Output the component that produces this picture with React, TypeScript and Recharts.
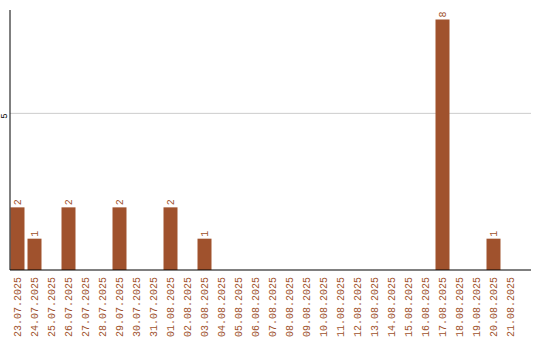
import React from 'react';
import { BarChart, Bar, XAxis, YAxis, CartesianGrid, LabelList } from 'recharts';

const dates = [
  '23.07.2025', '24.07.2025', '25.07.2025', '26.07.2025', '27.07.2025',
  '28.07.2025', '29.07.2025', '30.07.2025', '31.07.2025', '01.08.2025',
  '02.08.2025', '03.08.2025', '04.08.2025', '05.08.2025', '06.08.2025',
  '07.08.2025', '08.08.2025', '09.08.2025', '10.08.2025', '11.08.2025',
  '12.08.2025', '13.08.2025', '14.08.2025', '15.08.2025', '16.08.2025',
  '17.08.2025', '18.08.2025', '19.08.2025', '20.08.2025', '21.08.2025',
];

const counts = [
  2, 1, 0, 2, 0, 0, 2, 0, 0, 2,
  0, 1, 0, 0, 0, 0, 0, 0, 0, 0,
  0, 0, 0, 0, 0, 8, 0, 0, 1, 0,
];

const yTicks = [5];

const BROWN = '#A0522D';
const MONO = '"Liberation Mono", "DejaVu Sans Mono", monospace';

const data = dates.map((d, i) => ({ date: d, count: counts[i] }));

// date labels run bottom-to-top, ending just under the axis
const DateTick = (props: any) => {
  const { x, y, payload } = props;
  const ty = y - 1;
  return (
    <text
      x={x}
      y={ty}
      dy="0.35em"
      transform={`rotate(-90, ${x}, ${ty})`}
      textAnchor="end"
      fill={BROWN}
      fontSize={10}
      fontFamily={MONO}
    >
      {payload.value}
    </text>
  );
};

const ValueTick = (props: any) => {
  const { y, payload } = props;
  return (
    <text
      x={7}
      y={y}
      transform={`rotate(-90, 7, ${y})`}
      textAnchor="end"
      fill="#000"
      fontSize={9}
      fontFamily={MONO}
    >
      {payload.value}
    </text>
  );
};

const BarValue = (props: any) => {
  const { x, y, width, value } = props;
  if (!value) return null;
  const cx = x + width / 2;
  const ty = y - 2;
  return (
    <text
      x={cx}
      y={ty}
      dy="0.35em"
      transform={`rotate(-90, ${cx}, ${ty})`}
      textAnchor="start"
      fill={BROWN}
      fontSize={10}
      fontFamily={MONO}
    >
      {value}
    </text>
  );
};

export default function App() {
  return (
    <div style={{ position: 'absolute', left: 0, top: 0, width: 540, height: 340, background: '#fff' }}>
      <BarChart
        width={540}
        height={340}
        data={data}
        margin={{ top: 10, right: 9, left: 9, bottom: 0 }}
        barSize={14}
      >
        <CartesianGrid horizontal vertical={false} horizontalValues={yTicks} stroke="#cccccc" />
        <XAxis
          dataKey="date"
          interval={0}
          height={70}
          padding={{ left: -1.5, right: 12.5 }}
          axisLine={{ stroke: '#000' }}
          tickLine={false}
          tick={<DateTick />}
        />
        <YAxis
          width={1}
          domain={[0, 8.3]}
          ticks={yTicks}
          axisLine={{ stroke: '#000' }}
          tickLine={false}
          tick={<ValueTick />}
        />
        <Bar dataKey="count" fill={BROWN} isAnimationActive={false}>
          <LabelList dataKey="count" content={<BarValue />} />
        </Bar>
      </BarChart>
    </div>
  );
}
